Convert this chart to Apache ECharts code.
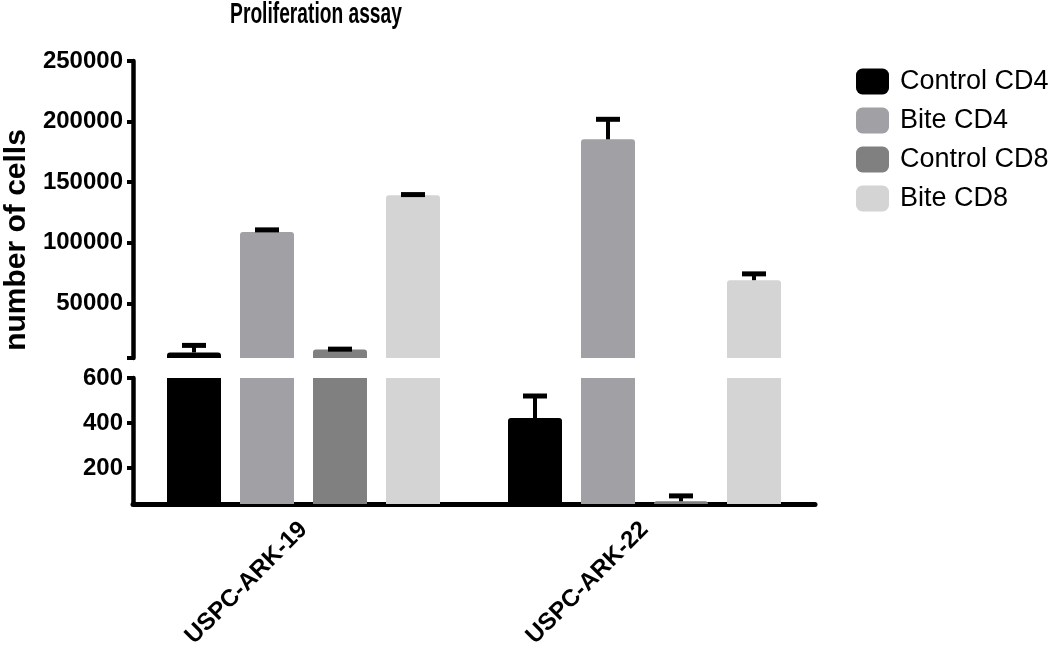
<!DOCTYPE html>
<html>
<head>
<meta charset="utf-8">
<script src="https://cdn.jsdelivr.net/npm/echarts@6/dist/echarts.min.js"></script>
<style>html,body{margin:0;padding:0;background:#fff}#c{width:1050px;height:645px}</style>
</head>
<body>
<div id="c"></div>
<script>
// ---- data ----
const categories = ['USPC-ARK-19', 'USPC-ARK-22'];
const seriesNames = ['Control CD4', 'Bite CD4', 'Control CD8', 'Bite CD8'];
const controlCD4 = [9600, 422];
const controlCD4Err = [5800, 98];
const biteCD4 = [109000, 185400];
const biteCD4Err = [1700, 16500];
const controlCD8 = [12100, 52];
const controlCD8Err = [200, 24];
const biteCD8 = [139300, 69200];
const biteCD8Err = [500, 5200];
const upperTicks = [50000, 100000, 150000, 200000, 250000];
const lowerTicks = [200, 400, 600];
const upperRange = [5000, 250000];
const lowerRange = [40, 600];
const titleText = 'Proliferation assay';
const yAxisTitle = 'number of cells';

// ---- styling ----
const colors = ['#000000', '#a0a0a5', '#808080', '#d4d4d4'];
const values = [controlCD4, biteCD4, controlCD8, biteCD8];
const errs = [controlCD4Err, biteCD4Err, controlCD8Err, biteCD8Err];
const barWidth = 54, barGapPx = 19;
const offsets = [0, 1, 2, 3].map(i => (i - 1.5) * (barWidth + barGapPx));
const FONT = 'Liberation Sans, Arial, Helvetica, sans-serif';

const chart = echarts.init(document.getElementById('c'), null, {renderer: 'canvas'});

function barData(arr, max) {
  return arr.map(v => ({
    value: v,
    itemStyle: {borderRadius: v > max ? 0 : [3, 3, 0, 0]}
  }));
}

const errData = [];
values.forEach((arr, s) => arr.forEach((v, c) => errData.push([c, v, errs[s][c], s])));

function renderErr(params, api) {
  const c = api.value(0), v = api.value(1), e = api.value(2), s = api.value(3);
  const base = api.coord([c, v]);
  const top = api.coord([c, v + e]);
  const x = base[0] + offsets[s];
  return {
    type: 'group',
    children: [
      {type: 'line', shape: {x1: x, y1: base[1], x2: x, y2: top[1]}, style: {stroke: '#000', lineWidth: 4}},
      {type: 'line', shape: {x1: x - 12, y1: top[1], x2: x + 12, y2: top[1]}, style: {stroke: '#000', lineWidth: 5}}
    ]
  };
}

const series = [];
seriesNames.forEach((n, i) => {
  series.push({
    name: n, type: 'bar', xAxisIndex: 0, yAxisIndex: 0,
    data: barData(values[i], upperRange[1]),
    barWidth: barWidth, barGap: (barGapPx / barWidth * 100) + '%',
    itemStyle: {color: colors[i]}, clip: true, z: 2
  });
});
seriesNames.forEach((n, i) => {
  series.push({
    name: n, type: 'bar', xAxisIndex: 1, yAxisIndex: 1,
    data: barData(values[i], lowerRange[1]),
    barWidth: barWidth, barGap: (barGapPx / barWidth * 100) + '%',
    itemStyle: {color: colors[i]}, clip: true, z: 2
  });
});
series.push({name: 'errUpper', type: 'custom', xAxisIndex: 0, yAxisIndex: 0, data: errData, renderItem: renderErr, clip: true, z: 5});
series.push({name: 'errLower', type: 'custom', xAxisIndex: 1, yAxisIndex: 1, data: errData, renderItem: renderErr, clip: true, z: 5});

const axisLineStyle = {color: '#000', width: 4.5};
const tickLabel = {margin: 10, color: '#000', fontFamily: FONT, fontWeight: 'bold', fontSize: 24, formatter: v => String(v)};

const option = {
  backgroundColor: '#fff',
  animation: false,
  legend: {
    data: seriesNames, orient: 'vertical', left: 851, top: 63,
    icon: 'roundRect', itemWidth: 33, itemHeight: 26, itemGap: 12,
    textStyle: {fontFamily: FONT, fontSize: 27, color: '#000', padding: [0, 0, 0, 6]}
  },
  grid: [
    {left: 133, width: 682, top: 61, height: 297, outerBoundsMode: 'none', containLabel: false},
    {left: 133, width: 682, top: 378, height: 126, outerBoundsMode: 'none', containLabel: false}
  ],
  xAxis: [
    {type: 'category', gridIndex: 0, data: categories, show: false},
    {type: 'category', gridIndex: 1, data: categories,
      axisLine: {lineStyle: {color: '#000', width: 5}},
      axisTick: {alignWithLabel: true, length: 7, lineStyle: {color: '#000', width: 4}},
      axisLabel: {rotate: 45, margin: 22, color: '#000', fontFamily: FONT, fontWeight: 'bold', fontSize: 24}
    }
  ],
  yAxis: [
    {type: 'value', gridIndex: 0, min: upperRange[0], max: upperRange[1],
      splitLine: {show: false},
      axisLine: {show: true, lineStyle: axisLineStyle},
      axisTick: {show: true, length: 6, customValues: [upperRange[0]].concat(upperTicks), lineStyle: {color: '#000', width: 4}},
      axisLabel: Object.assign({customValues: upperTicks}, tickLabel)
    },
    {type: 'value', gridIndex: 1, min: lowerRange[0], max: lowerRange[1],
      splitLine: {show: false},
      axisLine: {show: true, lineStyle: axisLineStyle},
      axisTick: {show: true, length: 6, customValues: lowerTicks, lineStyle: {color: '#000', width: 4}},
      axisLabel: Object.assign({customValues: lowerTicks}, tickLabel)
    }
  ],
  graphic: [
    {
      type: 'text', x: 316, y: 15, scaleX: 0.64,
      style: {text: titleText, fontFamily: FONT, fontWeight: 'bold', fontSize: 30, fill: '#000', align: 'center', verticalAlign: 'middle'}
    },
    {
      type: 'text', x: 17, y: 240, rotation: Math.PI / 2,
      style: {text: yAxisTitle, fontFamily: FONT, fontWeight: 'bold', fontSize: 30, fill: '#000', align: 'center', verticalAlign: 'middle'}
    }
  ],
  series: series
};
chart.setOption(option);
</script>
</body>
</html>
